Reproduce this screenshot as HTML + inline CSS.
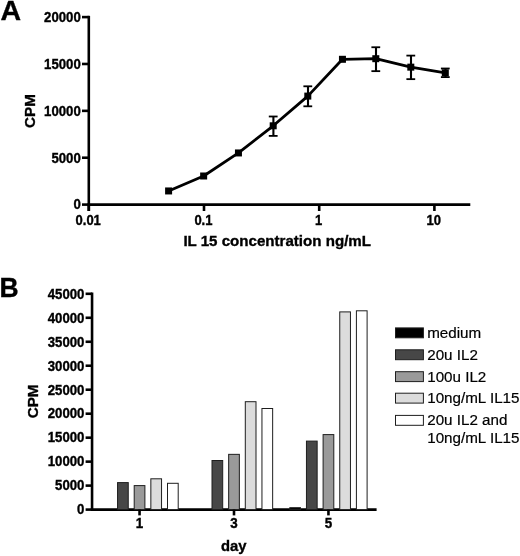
<!DOCTYPE html>
<html><head><meta charset="utf-8"><style>
html,body{margin:0;padding:0;background:#fff;}
svg{display:block;will-change:transform;filter:blur(0.3px);}
text{font-family:"Liberation Sans", sans-serif;fill:#000;stroke:#000;stroke-width:0.35px;} text[font-weight=normal]{stroke-width:0.2px;}
</style></head><body>
<svg width="520" height="556" viewBox="0 0 520 556">
<rect width="520" height="556" fill="#fff"/>
<line x1="88.80" y1="15.80" x2="88.80" y2="211.00" stroke="#000" stroke-width="2.6"/>
<line x1="82.00" y1="204.60" x2="88.80" y2="204.60" stroke="#000" stroke-width="2.6"/>
<text x="0" y="0" font-size="13.2" text-anchor="end" font-weight="bold" transform="translate(80.80,209.40) scale(1,1.07)">0</text>
<line x1="82.00" y1="157.72" x2="88.80" y2="157.72" stroke="#000" stroke-width="2.6"/>
<text x="0" y="0" font-size="13.2" text-anchor="end" font-weight="bold" transform="translate(80.80,162.53) scale(1,1.07)">5000</text>
<line x1="82.00" y1="110.85" x2="88.80" y2="110.85" stroke="#000" stroke-width="2.6"/>
<text x="0" y="0" font-size="13.2" text-anchor="end" font-weight="bold" transform="translate(80.80,115.65) scale(1,1.07)">10000</text>
<line x1="82.00" y1="63.97" x2="88.80" y2="63.97" stroke="#000" stroke-width="2.6"/>
<text x="0" y="0" font-size="13.2" text-anchor="end" font-weight="bold" transform="translate(80.80,68.77) scale(1,1.07)">15000</text>
<line x1="82.00" y1="17.10" x2="88.80" y2="17.10" stroke="#000" stroke-width="2.6"/>
<text x="0" y="0" font-size="13.2" text-anchor="end" font-weight="bold" transform="translate(80.80,21.90) scale(1,1.07)">20000</text>
<line x1="87.50" y1="204.60" x2="470.30" y2="204.60" stroke="#000" stroke-width="2.6"/>
<line x1="88.80" y1="204.60" x2="88.80" y2="211.00" stroke="#000" stroke-width="2.6"/>
<text x="0" y="0" font-size="13.0" text-anchor="middle" font-weight="bold" transform="translate(88.20,225.30) scale(1,1.07)">0.01</text>
<line x1="204.00" y1="204.60" x2="204.00" y2="211.00" stroke="#000" stroke-width="2.6"/>
<text x="0" y="0" font-size="13.0" text-anchor="middle" font-weight="bold" transform="translate(203.40,225.30) scale(1,1.07)">0.1</text>
<line x1="319.20" y1="204.60" x2="319.20" y2="211.00" stroke="#000" stroke-width="2.6"/>
<text x="0" y="0" font-size="13.0" text-anchor="middle" font-weight="bold" transform="translate(318.60,225.30) scale(1,1.07)">1</text>
<line x1="434.40" y1="204.60" x2="434.40" y2="211.00" stroke="#000" stroke-width="2.6"/>
<text x="0" y="0" font-size="13.0" text-anchor="middle" font-weight="bold" transform="translate(433.80,225.30) scale(1,1.07)">10</text>
<text x="277.20" y="246.20" font-size="15.1" text-anchor="middle" font-weight="bold" >IL 15 concentration ng/mL</text>
<text x="0.00" y="0.00" font-size="15.2" text-anchor="middle" font-weight="bold" transform="translate(35.3,111) rotate(-90)">CPM</text>
<text x="0.00" y="0.00" font-size="28.5" text-anchor="start" font-weight="bold" transform="translate(0.5,20.4)">A</text>
<polyline points="168.60,190.95 203.65,176.00 238.45,152.95 273.20,125.80 307.80,96.10 342.45,59.30 375.80,58.70 410.80,67.15 445.30,72.80" fill="none" stroke="#000" stroke-width="2.8" stroke-linejoin="round"/>
<rect x="165.10" y="187.45" width="7" height="7" fill="#000"/>
<rect x="200.15" y="172.50" width="7" height="7" fill="#000"/>
<rect x="234.95" y="149.45" width="7" height="7" fill="#000"/>
<line x1="273.40" y1="116.50" x2="273.40" y2="135.90" stroke="#000" stroke-width="2.1"/>
<line x1="268.80" y1="116.50" x2="277.60" y2="116.50" stroke="#000" stroke-width="1.8"/>
<line x1="268.80" y1="135.90" x2="277.60" y2="135.90" stroke="#000" stroke-width="1.8"/>
<rect x="269.70" y="122.30" width="7" height="7" fill="#000"/>
<line x1="308.00" y1="86.30" x2="308.00" y2="106.30" stroke="#000" stroke-width="2.1"/>
<line x1="303.40" y1="86.30" x2="312.20" y2="86.30" stroke="#000" stroke-width="1.8"/>
<line x1="303.40" y1="106.30" x2="312.20" y2="106.30" stroke="#000" stroke-width="1.8"/>
<rect x="304.30" y="92.60" width="7" height="7" fill="#000"/>
<rect x="338.95" y="55.80" width="7" height="7" fill="#000"/>
<line x1="376.00" y1="47.25" x2="376.00" y2="71.15" stroke="#000" stroke-width="2.1"/>
<line x1="371.40" y1="47.25" x2="380.20" y2="47.25" stroke="#000" stroke-width="1.8"/>
<line x1="371.40" y1="71.15" x2="380.20" y2="71.15" stroke="#000" stroke-width="1.8"/>
<rect x="372.30" y="55.20" width="7" height="7" fill="#000"/>
<line x1="411.00" y1="55.60" x2="411.00" y2="79.15" stroke="#000" stroke-width="2.1"/>
<line x1="406.40" y1="55.60" x2="415.20" y2="55.60" stroke="#000" stroke-width="1.8"/>
<line x1="406.40" y1="79.15" x2="415.20" y2="79.15" stroke="#000" stroke-width="1.8"/>
<rect x="407.30" y="63.65" width="7" height="7" fill="#000"/>
<line x1="445.50" y1="68.50" x2="445.50" y2="77.10" stroke="#000" stroke-width="2.1"/>
<line x1="440.90" y1="68.50" x2="449.70" y2="68.50" stroke="#000" stroke-width="1.8"/>
<line x1="440.90" y1="77.10" x2="449.70" y2="77.10" stroke="#000" stroke-width="1.8"/>
<rect x="441.80" y="69.30" width="7" height="7" fill="#000"/>
<line x1="92.05" y1="292.50" x2="92.05" y2="509.60" stroke="#000" stroke-width="2.6"/>
<line x1="85.60" y1="509.60" x2="92.05" y2="509.60" stroke="#000" stroke-width="2.6"/>
<text x="0" y="0" font-size="13.2" text-anchor="end" font-weight="bold" transform="translate(84.40,514.40) scale(1,1.07)">0</text>
<line x1="85.60" y1="485.62" x2="92.05" y2="485.62" stroke="#000" stroke-width="2.6"/>
<text x="0" y="0" font-size="13.2" text-anchor="end" font-weight="bold" transform="translate(84.40,490.42) scale(1,1.07)">5000</text>
<line x1="85.60" y1="461.64" x2="92.05" y2="461.64" stroke="#000" stroke-width="2.6"/>
<text x="0" y="0" font-size="13.2" text-anchor="end" font-weight="bold" transform="translate(84.40,466.44) scale(1,1.07)">10000</text>
<line x1="85.60" y1="437.67" x2="92.05" y2="437.67" stroke="#000" stroke-width="2.6"/>
<text x="0" y="0" font-size="13.2" text-anchor="end" font-weight="bold" transform="translate(84.40,442.47) scale(1,1.07)">15000</text>
<line x1="85.60" y1="413.69" x2="92.05" y2="413.69" stroke="#000" stroke-width="2.6"/>
<text x="0" y="0" font-size="13.2" text-anchor="end" font-weight="bold" transform="translate(84.40,418.49) scale(1,1.07)">20000</text>
<line x1="85.60" y1="389.71" x2="92.05" y2="389.71" stroke="#000" stroke-width="2.6"/>
<text x="0" y="0" font-size="13.2" text-anchor="end" font-weight="bold" transform="translate(84.40,394.51) scale(1,1.07)">25000</text>
<line x1="85.60" y1="365.73" x2="92.05" y2="365.73" stroke="#000" stroke-width="2.6"/>
<text x="0" y="0" font-size="13.2" text-anchor="end" font-weight="bold" transform="translate(84.40,370.53) scale(1,1.07)">30000</text>
<line x1="85.60" y1="341.76" x2="92.05" y2="341.76" stroke="#000" stroke-width="2.6"/>
<text x="0" y="0" font-size="13.2" text-anchor="end" font-weight="bold" transform="translate(84.40,346.56) scale(1,1.07)">35000</text>
<line x1="85.60" y1="317.78" x2="92.05" y2="317.78" stroke="#000" stroke-width="2.6"/>
<text x="0" y="0" font-size="13.2" text-anchor="end" font-weight="bold" transform="translate(84.40,322.58) scale(1,1.07)">40000</text>
<line x1="85.60" y1="293.80" x2="92.05" y2="293.80" stroke="#000" stroke-width="2.6"/>
<text x="0" y="0" font-size="13.2" text-anchor="end" font-weight="bold" transform="translate(84.40,298.60) scale(1,1.07)">45000</text>
<line x1="90.75" y1="509.60" x2="376.60" y2="509.60" stroke="#000" stroke-width="2.6"/>
<rect x="117.55" y="482.60" width="10.70" height="27.00" fill="#474747" stroke="#1e1e1e" stroke-width="1.0"/>
<rect x="134.20" y="485.60" width="10.70" height="24.00" fill="#9a9a9a" stroke="#1e1e1e" stroke-width="1.0"/>
<rect x="150.85" y="478.80" width="10.70" height="30.80" fill="#dcdcdc" stroke="#1e1e1e" stroke-width="1.0"/>
<rect x="167.50" y="483.30" width="10.70" height="26.30" fill="#ffffff" stroke="#1e1e1e" stroke-width="1.0"/>
<line x1="139.55" y1="509.60" x2="139.55" y2="515.40" stroke="#000" stroke-width="2.6"/>
<text x="0" y="0" font-size="13.4" text-anchor="middle" font-weight="bold" transform="translate(139.55,527.90) scale(1,1.07)">1</text>
<rect x="212.00" y="460.50" width="10.70" height="49.10" fill="#474747" stroke="#1e1e1e" stroke-width="1.0"/>
<rect x="228.65" y="454.35" width="10.70" height="55.25" fill="#9a9a9a" stroke="#1e1e1e" stroke-width="1.0"/>
<rect x="245.30" y="401.70" width="10.70" height="107.90" fill="#dcdcdc" stroke="#1e1e1e" stroke-width="1.0"/>
<rect x="261.95" y="408.50" width="10.70" height="101.10" fill="#ffffff" stroke="#1e1e1e" stroke-width="1.0"/>
<line x1="234.00" y1="509.60" x2="234.00" y2="515.40" stroke="#000" stroke-width="2.6"/>
<text x="0" y="0" font-size="13.4" text-anchor="middle" font-weight="bold" transform="translate(234.00,527.90) scale(1,1.07)">3</text>
<rect x="289.80" y="507.70" width="10.70" height="1.90" fill="#000" stroke="#1e1e1e" stroke-width="1.0"/>
<rect x="306.45" y="441.10" width="10.70" height="68.50" fill="#474747" stroke="#1e1e1e" stroke-width="1.0"/>
<rect x="323.10" y="434.60" width="10.70" height="75.00" fill="#9a9a9a" stroke="#1e1e1e" stroke-width="1.0"/>
<rect x="339.75" y="311.90" width="10.70" height="197.70" fill="#dcdcdc" stroke="#1e1e1e" stroke-width="1.0"/>
<rect x="356.40" y="310.80" width="10.70" height="198.80" fill="#ffffff" stroke="#1e1e1e" stroke-width="1.0"/>
<line x1="328.45" y1="509.60" x2="328.45" y2="515.40" stroke="#000" stroke-width="2.6"/>
<text x="0" y="0" font-size="13.4" text-anchor="middle" font-weight="bold" transform="translate(328.45,527.90) scale(1,1.07)">5</text>
<text x="233.80" y="551.00" font-size="14.8" text-anchor="middle" font-weight="bold" >day</text>
<text x="0.00" y="0.00" font-size="15.2" text-anchor="middle" font-weight="bold" transform="translate(38.4,401.4) rotate(-90)">CPM</text>
<text x="0.00" y="0.00" font-size="28.5" text-anchor="start" font-weight="bold" transform="translate(-0.4,296.6) scale(0.93,1)">B</text>
<rect x="395.5" y="327.90" width="27.9" height="9.9" fill="#000" stroke="#1e1e1e" stroke-width="1.0"/>
<text x="427.20" y="338.30" font-size="15.2" text-anchor="start" font-weight="normal" >medium</text>
<rect x="395.5" y="349.80" width="27.9" height="9.9" fill="#474747" stroke="#1e1e1e" stroke-width="1.0"/>
<text x="427.20" y="360.00" font-size="15.2" text-anchor="start" font-weight="normal" >20u IL2</text>
<rect x="395.5" y="371.70" width="27.9" height="9.9" fill="#9a9a9a" stroke="#1e1e1e" stroke-width="1.0"/>
<text x="427.20" y="381.50" font-size="15.2" text-anchor="start" font-weight="normal" >100u IL2</text>
<rect x="395.5" y="393.20" width="27.9" height="9.9" fill="#dcdcdc" stroke="#1e1e1e" stroke-width="1.0"/>
<text x="427.20" y="403.30" font-size="15.2" text-anchor="start" font-weight="normal" >10ng/mL IL15</text>
<rect x="395.5" y="415.40" width="27.9" height="9.9" fill="#ffffff" stroke="#1e1e1e" stroke-width="1.0"/>
<text x="427.20" y="424.90" font-size="15.2" text-anchor="start" font-weight="normal" >20u IL2 and</text>
<text x="427.20" y="443.00" font-size="15.2" text-anchor="start" font-weight="normal" >10ng/mL IL15</text>
</svg>
</body></html>
